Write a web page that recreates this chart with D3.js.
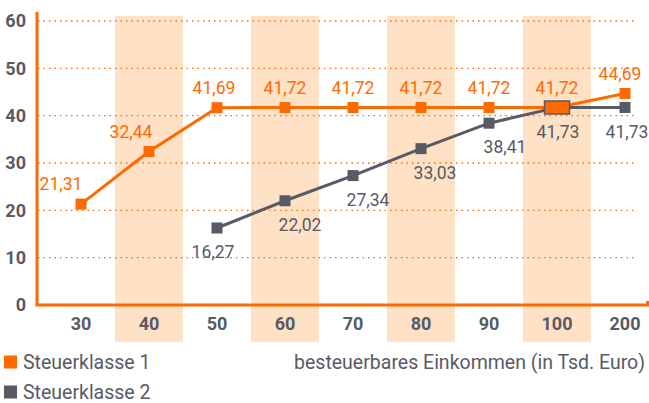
<!DOCTYPE html>
<html>
<head>
<meta charset="utf-8">
<script src="https://cdn.jsdelivr.net/npm/d3@7"></script>
<style>
  body { margin: 0; background: #fff; }
  svg { display: block; font-family: Roboto, "DejaVu Sans Condensed", sans-serif; }
  .tick-label { font-weight: bold; fill: #585a66; font-size: 18px; }
  .legend-text { fill: #585a66; font-size: 19.5px; }
</style>
</head>
<body>
<svg width="649" height="403"></svg>
<script>
// income classes (in Tsd. Euro)
const categories = ['30', '40', '50', '60', '70', '80', '90', '100', '200'];
// Steuerklasse 1
const klasse1 = [21.31, 32.44, 41.69, 41.72, 41.72, 41.72, 41.72, 41.72, 44.69];
// Steuerklasse 2 (no values for 30 and 40)
const klasse2 = [null, null, 16.27, 22.02, 27.34, 33.03, 38.41, 41.73, 41.73];
const yTicks = [0, 10, 20, 30, 40, 50, 60];
const shadedCategories = ['40', '60', '80', '100'];
const seriesNames = ['Steuerklasse 1', 'Steuerklasse 2'];
const xAxisTitle = 'besteuerbares Einkommen (in Tsd. Euro)';

// label nudges so the numbers do not sit on the lines
const dx1 = [-20, -18, -3, 0, 0, 0, 0, 0, -5];
const dx2 = [0, 0, -4, 15, 15, 14, 16, 1, 2];

const orange = '#ff6a00';
const gray = '#585a66';
const band = '#ffe1c6';

const fmt = v => d3.format('.2f')(v).replace('.', ',');

const svg = d3.select('svg');

const xScale = d3.scaleBand()
    .domain(categories)
    .range([47, 659])
    .padding(0);

const yScale = d3.scaleLinear()
    .domain([0, 60])
    .range([305, 21]);

const cx = c => xScale(c) + xScale.bandwidth() / 2;

// shaded columns
svg.append('g').selectAll('rect').data(shadedCategories)
    .enter().append('rect')
    .attr('x', d => xScale(d))
    .attr('y', 16)
    .attr('width', xScale.bandwidth())
    .attr('height', 326)
    .attr('fill', band);

// dotted grid lines
svg.append('g').selectAll('line').data(yTicks.filter(t => t > 0))
    .enter().append('line')
    .attr('x1', 38).attr('x2', 637)
    .attr('y1', d => yScale(d)).attr('y2', d => yScale(d))
    .attr('stroke', orange)
    .attr('stroke-width', 1.3)
    .attr('stroke-dasharray', '1.5,4');

// y tick labels
svg.append('g').selectAll('text').data(yTicks)
    .enter().append('text')
    .attr('class', 'tick-label')
    .attr('x', 26)
    .attr('y', d => yScale(d))
    .attr('dy', '0.36em')
    .attr('text-anchor', 'end')
    .text(d => d);

// x tick labels
svg.append('g').selectAll('text').data(categories)
    .enter().append('text')
    .attr('class', 'tick-label')
    .attr('x', d => cx(d))
    .attr('y', 324)
    .attr('dy', '0.36em')
    .attr('text-anchor', 'middle')
    .text(d => d);

// axes
svg.append('line')
    .attr('x1', 37).attr('x2', 37)
    .attr('y1', 12).attr('y2', 305.5)
    .attr('stroke', orange).attr('stroke-width', 3);
svg.append('path')
    .attr('d', `M35.5,${yScale(0)}H647.5V${yScale(0) - 4}`)
    .attr('fill', 'none')
    .attr('stroke', orange).attr('stroke-width', 3);

const line = d3.line()
    .defined(d => d.v != null)
    .x(d => cx(d.c))
    .y(d => yScale(d.v));

const pts1 = categories.map((c, i) => ({ c, v: klasse1[i], i }));
const pts2 = categories.map((c, i) => ({ c, v: klasse2[i], i })).filter(d => d.v != null);

svg.append('path').datum(pts1)
    .attr('d', line)
    .attr('fill', 'none')
    .attr('stroke', orange)
    .attr('stroke-width', 3);

svg.append('path').datum(pts2)
    .attr('d', line)
    .attr('fill', 'none')
    .attr('stroke', gray)
    .attr('stroke-width', 3);

// markers (the 100 column gets a combined marker below)
const ms = 11;
svg.append('g').selectAll('rect').data(pts1.filter(d => d.c !== '100'))
    .enter().append('rect')
    .attr('x', d => cx(d.c) - ms / 2)
    .attr('y', d => yScale(d.v) - ms / 2)
    .attr('width', ms).attr('height', ms)
    .attr('fill', orange);

svg.append('g').selectAll('rect').data(pts2.filter(d => d.c !== '100'))
    .enter().append('rect')
    .attr('x', d => cx(d.c) - ms / 2)
    .attr('y', d => yScale(d.v) - ms / 2)
    .attr('width', ms).attr('height', ms)
    .attr('fill', gray);

// both classes meet at 100
const mi = categories.indexOf('100');
svg.append('rect')
    .attr('x', cx('100') - 12.5)
    .attr('y', yScale((klasse1[mi] + klasse2[mi]) / 2) - 6.5)
    .attr('width', 25).attr('height', 13)
    .attr('fill', orange)
    .attr('stroke', gray)
    .attr('stroke-width', 1.5);

// value labels
svg.append('g').selectAll('text').data(pts1)
    .enter().append('text')
    .attr('x', d => cx(d.c) + dx1[d.i])
    .attr('y', d => yScale(d.v) - 20)
    .attr('dy', '0.36em')
    .attr('text-anchor', 'middle')
    .attr('font-size', 17.5)
    .attr('fill', orange)
    .text(d => fmt(d.v));

svg.append('g').selectAll('text').data(pts2)
    .enter().append('text')
    .attr('x', d => cx(d.c) + dx2[d.i])
    .attr('y', d => yScale(d.v) + 24)
    .attr('dy', '0.36em')
    .attr('text-anchor', 'middle')
    .attr('font-size', 17.5)
    .attr('fill', gray)
    .text(d => fmt(d.v));

// legend
const legend = svg.append('g').selectAll('g').data(seriesNames)
    .enter().append('g')
    .attr('transform', (d, i) => `translate(4,${362 + i * 30})`);
legend.append('rect')
    .attr('y', -6.5).attr('width', 13).attr('height', 13)
    .attr('fill', (d, i) => i === 0 ? orange : gray);
legend.append('text')
    .attr('class', 'legend-text')
    .attr('x', 19)
    .attr('dy', '0.35em')
    .text(d => d);

svg.append('text')
    .attr('class', 'legend-text')
    .attr('x', 645).attr('y', 362)
    .attr('dy', '0.35em')
    .attr('text-anchor', 'end')
    .text(xAxisTitle);
</script>
</body>
</html>
